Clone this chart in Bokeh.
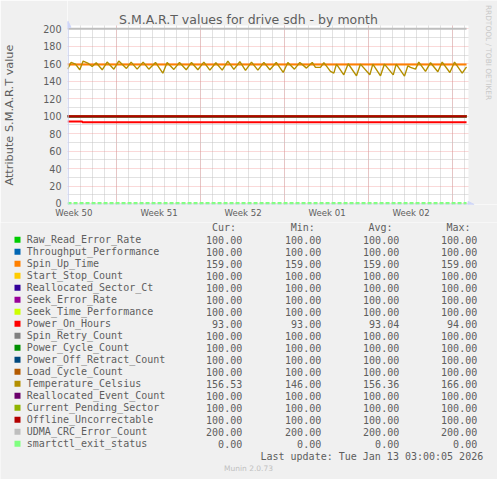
import math
from bokeh.plotting import figure
from bokeh.models import (Range1d, FixedTicker, Label, Arrow, NormalHead, ColumnDataSource,
                          BoxAnnotation)
from bokeh.embed import file_html
from bokeh.resources import INLINE
from bokeh.core.properties import value

# ---------------- data ----------------
names = ["Raw_Read_Error_Rate", "Throughput_Performance", "Spin_Up_Time", "Start_Stop_Count",
         "Reallocated_Sector_Ct", "Seek_Error_Rate", "Seek_Time_Performance", "Power_On_Hours",
         "Spin_Retry_Count", "Power_Cycle_Count", "Power_Off_Retract_Count", "Load_Cycle_Count",
         "Temperature_Celsius", "Reallocated_Event_Count", "Current_Pending_Sector",
         "Offline_Uncorrectable", "UDMA_CRC_Error_Count", "smartctl_exit_status"]
colors = ["#00CC00", "#0066B3", "#FF8000", "#FFCC00", "#330099", "#990099", "#CCFF00", "#FF0000",
          "#808080", "#008F00", "#00487D", "#B35A00", "#B38F00", "#6B006B", "#8FB300", "#B30000",
          "#BEBEBE", "#80FF80"]
cur_vals = [100, 100, 159, 100, 100, 100, 100, 93, 100, 100, 100, 100, 156.53, 100, 100, 100, 200, 0]
min_vals = [100, 100, 159, 100, 100, 100, 100, 93, 100, 100, 100, 100, 146, 100, 100, 100, 200, 0]
avg_vals = [100, 100, 159, 100, 100, 100, 100, 93.04, 100, 100, 100, 100, 156.36, 100, 100, 100, 200, 0]
max_vals = [100, 100, 159, 100, 100, 100, 100, 94, 100, 100, 100, 100, 166, 100, 100, 100, 200, 0]

# time in days (0 = Thu Dec 11 00:00)
t_start, t_end = -0.08, 33.17
power_on_change_day = 1.15

temp_days = [-0.08, 0.22, 0.58, 0.94, 1.22, 1.61, 1.97, 2.31, 2.81, 3.22, 3.78, 4.19, 4.83, 5.22,
             5.72, 6.22, 6.69, 7.25, 7.86, 8.22, 8.78, 9.25, 9.81, 10.25, 10.78, 11.28, 11.78,
             12.28, 12.81, 13.28, 13.78, 14.28, 14.75, 15.25, 15.78, 16.28, 16.78, 17.31, 17.89,
             18.28, 18.83, 19.28, 19.83, 20.31, 20.58, 21.0, 21.28, 21.83, 22.11, 22.33, 22.94,
             23.31, 24.0, 24.33, 25.11, 25.36, 26.0, 26.33, 27.06, 27.31, 28.0, 28.28, 28.5,
             28.92, 29.19, 29.75, 30.17, 30.78, 31.14, 31.78, 32.17, 32.81, 33.17]
temp_vals = [153.8, 161.5, 159.6, 153.1, 163.1, 160.8, 156.9, 161.2, 153.1, 161.9, 153.8, 163.1,
             154.6, 161.9, 153.8, 161.9, 153.8, 161.5, 149.2, 161.5, 153.5, 161.5, 153.1, 161.5,
             153.1, 161.9, 152.7, 161.2, 152.7, 163.1, 153.5, 162.3, 152.3, 161.9, 152.7, 161.5,
             153.1, 161.5, 150.0, 161.5, 153.8, 161.5, 155.0, 161.5, 155.8, 155.8, 161.2, 151.2,
             149.2, 159.6, 147.3, 160.0, 146.2, 159.6, 147.3, 159.6, 146.2, 159.6, 147.3, 159.6,
             145.8, 157.7, 155.8, 153.8, 161.9, 151.2, 161.2, 150.8, 161.9, 150.0, 161.9, 149.2,
             156.5]

week_label_days = [0.45, 7.55, 14.55, 21.55, 28.55]
week_labels = ["Week 50", "Week 51", "Week 52", "Week 01", "Week 02"]
week_start_days = [4, 11, 18, 25, 32]
day_lines = list(range(0, 34))
y_ticks = list(range(0, 201, 20))
y_minor = list(range(10, 200, 20))

title_text = "S.M.A.R.T values for drive sdh - by month"
ylabel_text = "Attribute S.M.A.R.T value"
side_text = "RRDTOOL / TOBI OETIKER"
last_update = "Last update: Tue Jan 13 03:00:05 2026"
footer = "Munin 2.0.73"
headers = ["Cur:", "Min:", "Avg:", "Max:"]

BG = "#F0F0F0"
FONT = "#5E5E5E"
AXIS = "#CFD6F8"

# view window of the chart (canvas = white area)
x_lo, x_hi = -0.0833, 35.75
y_lo, y_hi = -1.145, 232.4
canvas_right = 33.333
canvas_top = 203.8

# ---------------- chart ----------------
p = figure(width=497, height=222, x_range=Range1d(x_lo, x_hi), y_range=Range1d(y_lo, y_hi),
           output_backend="svg", toolbar_location=None,
           min_border_left=67, min_border_right=0, min_border_top=0, min_border_bottom=18)
p.background_fill_color = "white"
p.border_fill_color = BG
p.outline_line_color = None

p.xaxis.ticker = FixedTicker(ticks=week_label_days)
p.xaxis.major_label_overrides = {d: l for d, l in zip(week_label_days, week_labels)}
p.yaxis.ticker = FixedTicker(ticks=y_ticks)
for ax in (p.xaxis[0], p.yaxis[0]):
    ax.axis_line_color = None
    ax.major_tick_line_color = None
    ax.minor_tick_line_color = None
    ax.major_tick_out = 0
    ax.major_tick_in = 0
    ax.major_label_text_font = "DejaVu Sans"
    ax.major_label_text_color = FONT
p.xaxis.major_label_text_font_size = "8.6px"
p.yaxis.major_label_text_font_size = "9.6px"
p.xaxis.major_label_standoff = 3
p.yaxis.major_label_standoff = 6
# the label is centred on the frame; the padding moves the visible text down to the canvas centre
p.yaxis.axis_label = ylabel_text + "\u00a0" * 7
p.yaxis.axis_label_standoff = 24
p.yaxis.axis_label_text_font = "DejaVu Sans"
p.yaxis.axis_label_text_font_size = "11.3px"
p.yaxis.axis_label_text_font_style = "normal"
p.yaxis.axis_label_text_color = FONT

p.xgrid.ticker = FixedTicker(ticks=week_start_days, minor_ticks=day_lines)
p.ygrid.ticker = FixedTicker(ticks=y_ticks, minor_ticks=y_minor)
for g in (p.xgrid[0], p.ygrid[0]):
    g.grid_line_color = "#F08C8C"
    g.grid_line_dash = "1 1"
    g.grid_line_alpha = 0.65
    g.minor_grid_line_color = "#C4C4C4"
    g.minor_grid_line_dash = "1 1"

for i, nm in enumerate(names):
    if nm == "Temperature_Celsius":
        p.line(temp_days, temp_vals, line_color=colors[i], line_width=1.4)
    elif nm == "Power_On_Hours":
        p.line([t_start, power_on_change_day, power_on_change_day, t_end],
               [max_vals[i], max_vals[i], cur_vals[i], cur_vals[i]], line_color=colors[i], line_width=2)
    elif nm == "smartctl_exit_status":
        p.line([t_start, t_end], [cur_vals[i], cur_vals[i]], line_color=colors[i], line_width=3,
               line_dash="4 2")
    else:
        p.line([t_start, t_end], [cur_vals[i], cur_vals[i]], line_color=colors[i], line_width=2)

# grey surroundings of the white canvas
p.add_layout(BoxAnnotation(left=canvas_right, right=x_hi, bottom=y_lo, top=y_hi,
                           fill_color=BG, fill_alpha=1.0, line_color=None))
p.add_layout(BoxAnnotation(left=x_lo, right=x_hi, bottom=canvas_top, top=y_hi,
                           fill_color=BG, fill_alpha=1.0, line_color=None))

# axis lines with arrow heads
p.add_layout(Arrow(end=NormalHead(size=6, fill_color=AXIS, line_color=AXIS),
                   x_start=-0.04, y_start=y_lo, x_end=-0.04, y_end=208.6, line_color=AXIS,
                   line_width=1.2))
p.add_layout(Arrow(end=NormalHead(size=6, fill_color=AXIS, line_color=AXIS),
                   x_start=x_lo, y_start=-1.05, x_end=33.8, y_end=-1.05, line_color=AXIS,
                   line_width=1.0))

# texts (screen units relative to the frame's bottom-left corner)
p.add_layout(Label(x=181, y=185, x_units="screen", y_units="screen", text=title_text,
                   text_align="center", text_baseline="middle", text_font="DejaVu Sans",
                   text_font_size="12.5px", text_color=FONT))
p.add_layout(Label(x=421, y=152, x_units="screen", y_units="screen", text=side_text,
                   angle=-math.pi / 2, text_align="center", text_baseline="middle",
                   text_font="DejaVu Sans", text_font_size="7.4px", text_color="#C8C8C8"))

# ---------------- legend ----------------
q = figure(width=497, height=257, x_range=Range1d(0, 497), y_range=Range1d(257, 0),
           output_backend="svg", toolbar_location=None, x_axis_type=None, y_axis_type=None,
           min_border=0, min_border_left=0, min_border_right=0, min_border_top=0,
           min_border_bottom=0)
q.background_fill_color = BG
q.border_fill_color = BG
q.outline_line_color = None
q.grid.visible = False

row_y = [17.3 + 12 * i for i in range(len(names))]
fmt = lambda v: "%.2f" % v
src = ColumnDataSource(dict(y=row_y, name=names, color=colors,
                            cur=[fmt(v) for v in cur_vals], mn=[fmt(v) for v in min_vals],
                            avg=[fmt(v) for v in avg_vals], mx=[fmt(v) for v in max_vals]))
mono = value("DejaVu Sans Mono")
q.scatter(x=17, y="y", source=src, marker="square", size=6, fill_color="color", line_color=None)
q.text(x=26.3, y="y", text="name", source=src, text_font=mono, text_font_size="10px",
       text_align="left", text_baseline="middle", text_color=FONT)
for col, xr in (("cur", 241.7), ("mn", 320.7), ("avg", 398.7), ("mx", 476.7)):
    q.text(x=xr, y="y", text=col, source=src, text_font=mono, text_font_size="10px",
           text_align="right", text_baseline="middle", text_color=FONT)
q.text(x=[235.5, 314.3, 392, 470], y=[5.3] * 4, text=headers,
       text_font=mono, text_font_size="10px", text_align="right", text_baseline="middle",
       text_color=FONT)
q.text(x=[482.7], y=[233.7], text=[last_update], text_font=mono, text_font_size="10px",
       text_align="right", text_baseline="middle", text_color=FONT)
q.text(x=[248], y=[246], text=[footer], text_font=value("DejaVu Sans"),
       text_font_size="7.5px", text_align="center", text_baseline="middle", text_color="#C0C0C0")

open("out.html", "w").write(file_html([p, q], INLINE))
